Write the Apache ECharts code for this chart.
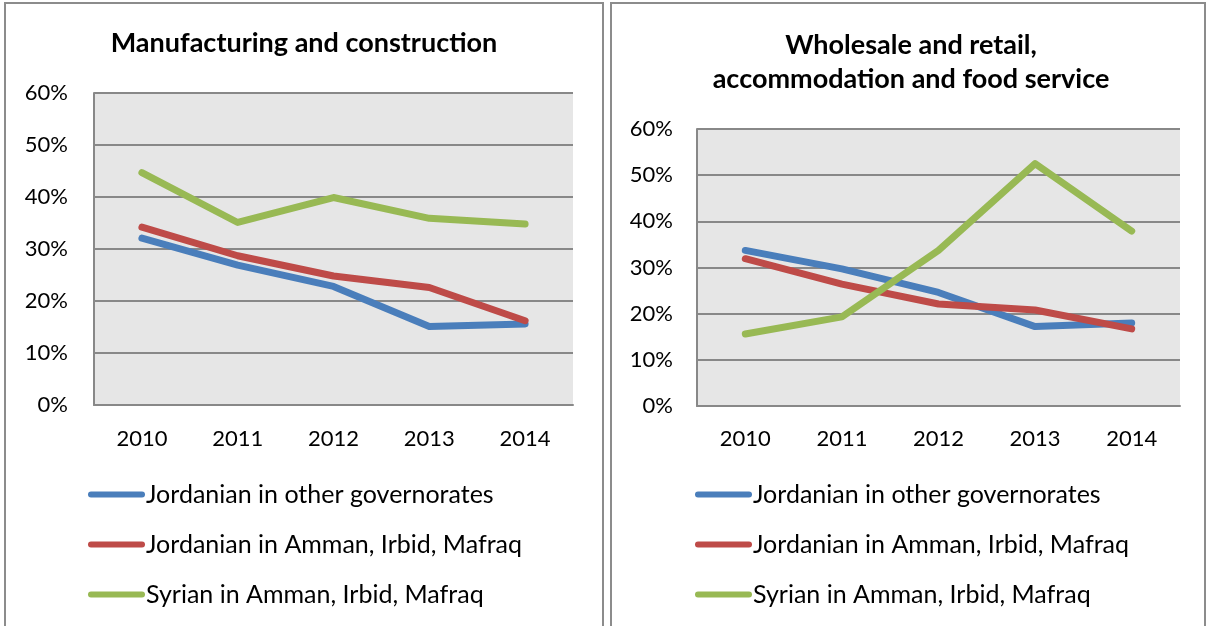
<!DOCTYPE html>
<html><head><meta charset="utf-8">
<script src="https://cdn.jsdelivr.net/npm/echarts@6/dist/echarts.min.js"></script>
<style>html,body{margin:0;padding:0;background:#fff}#c{width:1207px;height:626px}</style>
</head><body><div id="c"></div>
<script>
const years = ['2010','2011','2012','2013','2014'];
const seriesNames = ['Jordanian in other governorates','Jordanian in Amman, Irbid, Mafraq','Syrian in Amman, Irbid, Mafraq'];
const colors = ['#4A7EBB','#BE4B48','#98B954'];
// Manufacturing and construction (%)
const mfgJordOther = [32.1, 26.9, 22.8, 15.1, 15.6];
const mfgJordAIM   = [34.2, 28.7, 24.8, 22.6, 16.2];
const mfgSyrAIM    = [44.7, 35.1, 39.9, 35.9, 34.8];
// Wholesale and retail, accommodation and food service (%)
const wsJordOther = [33.7, 29.7, 24.6, 17.2, 18.0];
const wsJordAIM   = [31.9, 26.4, 22.1, 20.8, 16.7];
const wsSyrAIM    = [15.6, 19.3, 33.7, 52.5, 37.9];

const FONT = 'Lato';
const chart = echarts.init(document.getElementById('c'));
function yAx(gi){return {type:'value',gridIndex:gi,min:0,max:60,interval:10,
  axisLabel:{formatter:'{value}%',fontSize:22,color:'#000',fontFamily:FONT,margin:gi?24:26},
  axisLine:{show:true,lineStyle:{color:'#888',width:2}},axisTick:{show:false},
  splitLine:{lineStyle:{color:'#888',width:2}}};}
function xAx(gi){return {type:'category',gridIndex:gi,data:years,boundaryGap:true,
  axisLabel:{fontSize:22,color:'#000',fontFamily:FONT,margin:gi?22:23},
  axisLine:{lineStyle:{color:'#888',width:2}},axisTick:{show:false}};}
function ser(name,data,ci,gi){return {type:'line',name:name,data:data,xAxisIndex:gi,yAxisIndex:gi,
  symbol:'none',lineStyle:{color:colors[ci],width:7,cap:'round',join:'round'},itemStyle:{color:colors[ci]},animation:false};}
const legendIcon = 'path://M3,0 L54,0 A3,3 0 0 1 54,6 L3,6 A3,3 0 0 1 3,0 Z';
function leg(left){return {orient:'vertical',left:left,top:482,padding:0,itemWidth:57,itemHeight:6,itemGap:25,
  icon:legendIcon,data:seriesNames,selectedMode:false,
  textStyle:{fontSize:25,fontFamily:FONT,color:'#000',lineHeight:24,padding:[0,0,0,-4]}};}
chart.setOption({
  animation:false,
  color:colors,
  title:[
    {text:'Manufacturing and construction',left:304,top:26,padding:0,textAlign:'center',
     textStyle:{fontSize:27,fontWeight:'bold',fontFamily:FONT,color:'#000',lineHeight:34}},
    {text:'Wholesale and retail,\naccommodation and food service',left:911,top:28,padding:0,textAlign:'center',
     textStyle:{fontSize:27,fontWeight:'bold',fontFamily:FONT,color:'#000',lineHeight:34}}
  ],
  grid:[
    {left:94,top:93,width:479,height:312,show:true,backgroundColor:'#E6E6E6',borderWidth:0},
    {left:697,top:129,width:483,height:277,show:true,backgroundColor:'#E6E6E6',borderWidth:0}
  ],
  xAxis:[xAx(0),xAx(1)],
  yAxis:[yAx(0),yAx(1)],
  legend:[leg(88),leg(695)],
  series:[
    ser(seriesNames[0],mfgJordOther,0,0),
    ser(seriesNames[1],mfgJordAIM,1,0),
    ser(seriesNames[2],mfgSyrAIM,2,0),
    ser(seriesNames[0],wsJordOther,0,1),
    ser(seriesNames[1],wsJordAIM,1,1),
    ser(seriesNames[2],wsSyrAIM,2,1)
  ],
  graphic:[
    {type:'rect',shape:{x:5,y:3,width:598,height:640},style:{fill:'none',stroke:'#8c8c8c',lineWidth:2},silent:true},
    {type:'rect',shape:{x:611,y:3,width:594,height:640},style:{fill:'none',stroke:'#8c8c8c',lineWidth:2},silent:true}
  ]
});
</script></body></html>
